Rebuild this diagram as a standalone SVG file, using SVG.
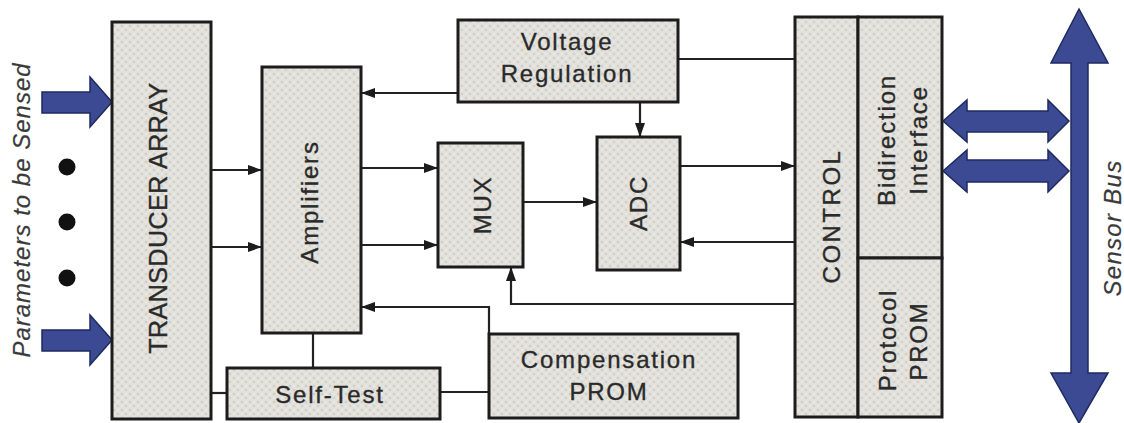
<svg xmlns="http://www.w3.org/2000/svg" width="1124" height="423" viewBox="0 0 1124 423">
<style>
.box{fill:url(#dots);stroke:#1c1c1c;stroke-width:3}
.lbl{font-family:"Liberation Sans",Arial,sans-serif;font-size:24px;letter-spacing:1.8px;fill:#2a2a2a;stroke:#2a2a2a;stroke-width:0.35px;text-anchor:middle}
.it{font-style:italic;letter-spacing:1px;fill:#3a3a3a;stroke:#3a3a3a;stroke-width:0.2px}
.con{fill:none;stroke:#222;stroke-width:2.2}
.arr{marker-end:url(#ah)}
.blue{fill:#3b4a92;stroke:#1f2a60;stroke-width:1.5;stroke-linejoin:miter}
</style>
<defs>
<pattern id="dots" width="8" height="8" patternUnits="userSpaceOnUse">
<rect width="8" height="8" fill="#e3e1dc"/>
<circle cx="2" cy="2" r="1.3" fill="#d0cec8"/>
<circle cx="6" cy="6" r="1.3" fill="#d3d1cb"/>
<circle cx="6" cy="2" r="0.9" fill="#eeece8"/>
<circle cx="2" cy="6" r="0.9" fill="#eeece8"/>
</pattern>
<marker id="ah" markerUnits="userSpaceOnUse" markerWidth="14" markerHeight="10" refX="13" refY="5" orient="auto">
<path d="M0,0 L14,5 L0,10 z" fill="#1c1c1c"/>
</marker>
</defs>
<rect width="1124" height="423" fill="#ffffff"/>

<g id="inputs">
<polygon class="blue" points="42,92 90,92 90,77 112,102 90,127 90,113 42,113"/>
<polygon class="blue" points="42,330 90,330 90,315 112,340 90,365 90,351 42,351"/>
<circle cx="67" cy="167" r="8.5" fill="#111"/>
<circle cx="67" cy="222" r="8.5" fill="#111"/>
<circle cx="67" cy="278" r="8.5" fill="#111"/>
<text class="lbl it" transform="translate(22,210) rotate(-90)" y="8">Parameters to be Sensed</text>
</g>

<g id="connectors">
<path class="con arr" d="M211,170 H261"/>
<path class="con arr" d="M211,247 H261"/>
<path class="con arr" d="M361,168 H437"/>
<path class="con arr" d="M361,245 H437"/>
<path class="con arr" d="M523,202 H596"/>
<path class="con arr" d="M680,166 H794"/>
<path class="con arr" d="M795,242 H681"/>
<path class="con arr" d="M458,93 H362"/>
<path class="con" d="M678,59 H795"/>
<path class="con arr" d="M640,102 V136"/>
<path class="con arr" d="M795,304 H511 V268"/>
<path class="con arr" d="M489,334 V307 H362"/>
<path class="con" d="M313,333 V368"/>
<path class="con" d="M211,393 H227"/>
<path class="con" d="M440,392 H489"/>
</g>

<g id="transducer">
<rect class="box" x="112" y="22" width="99" height="397"/>
<text class="lbl" style="font-size:25px;letter-spacing:0.5px" transform="translate(158,218) rotate(-90)" y="9">TRANSDUCER ARRAY</text>
</g>
<g id="amplifiers">
<rect class="box" x="262" y="67" width="99" height="266"/>
<text class="lbl" transform="translate(309,202) rotate(-90)" y="8.5">Amplifiers</text>
</g>
<g id="selftest">
<rect class="box" x="227" y="368" width="213" height="51"/>
<text class="lbl" x="330" y="403">Self-Test</text>
</g>
<g id="voltage">
<rect class="box" x="458" y="20" width="220" height="82"/>
<text class="lbl" x="567" y="50">Voltage</text>
<text class="lbl" x="567" y="82">Regulation</text>
</g>
<g id="mux">
<rect class="box" x="438" y="143" width="85" height="124"/>
<text class="lbl" transform="translate(482,205) rotate(-90)" y="8.5">MUX</text>
</g>
<g id="adc">
<rect class="box" x="597" y="137" width="83" height="133"/>
<text class="lbl" transform="translate(638.5,203) rotate(-90)" y="8.5">ADC</text>
</g>
<g id="compensation">
<rect class="box" x="489" y="334" width="249" height="84"/>
<text class="lbl" x="609" y="368">Compensation</text>
<text class="lbl" x="609" y="400">PROM</text>
</g>
<g id="control">
<rect class="box" x="795" y="17" width="63" height="400"/>
<text class="lbl" style="letter-spacing:2.5px" transform="translate(831,216) rotate(-90)" y="8.5">CONTROL</text>
</g>
<g id="bidirection">
<rect class="box" x="858" y="17" width="84" height="241"/>
<text class="lbl" transform="translate(886,140) rotate(-90)" y="8.5">Bidirection</text>
<text class="lbl" transform="translate(918,140) rotate(-90)" y="8.5">Interface</text>
</g>
<g id="protocol">
<rect class="box" x="858" y="258" width="84" height="159"/>
<text class="lbl" transform="translate(887,340) rotate(-90)" y="8.5">Protocol</text>
<text class="lbl" transform="translate(918,341) rotate(-90)" y="8.5">PROM</text>
</g>

<g id="bus">
<polygon class="blue" points="943,121 967,100 967,111 1048,111 1048,100 1069,121 1048,142 1048,132 967,132 967,142"/>
<polygon class="blue" points="943,171 967,150 967,160 1048,160 1048,150 1069,171 1048,192 1048,182 967,182 967,192"/>
<polygon class="blue" points="1079,9 1108,63 1088,63 1088,373 1108,373 1079,423 1051,373 1071,373 1071,63 1051,63"/>
<text class="lbl it" style="letter-spacing:1.3px" transform="translate(1112,228) rotate(-90)" y="8.5">Sensor Bus</text>
</g>
</svg>
